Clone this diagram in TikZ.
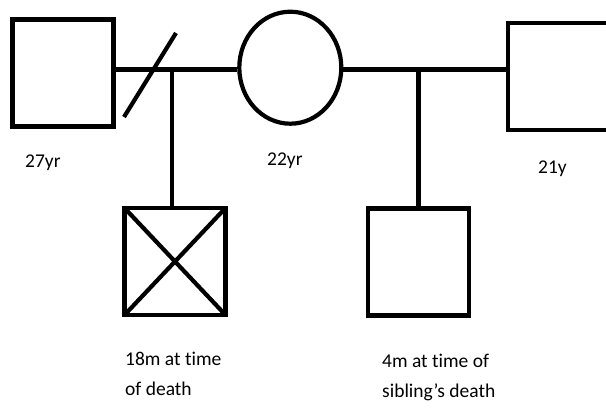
\documentclass[tikz,border=0pt]{standalone}
\usepackage{fontspec}
\setmainfont{Carlito}[Ligatures={NoCommon}]
\usetikzlibrary{shapes.geometric}
\begin{document}
\begin{tikzpicture}[x=1pt,y=-1pt,
  person/.style={draw,line width=4.2pt,inner sep=0pt,minimum width=101pt,minimum height=107pt},
  female/.style={draw,ellipse,line width=4.2pt,inner sep=0pt,minimum width=102pt,minimum height=112pt},
  link/.style={line width=4.2pt},
  lbl/.style={font=\fontsize{19.5}{30}\selectfont,inner sep=0pt,align=left}]
\useasboundingbox (0,0) rectangle (606,408);
\node[person] (f1) at (63,73) {};
\node[female] (m) at (290.3,67.7) {};
\node[person] (f2) at (558.5,76.5) {};
\node[person,path picture={\draw[line width=4.2pt] (path picture bounding box.north west) -- (path picture bounding box.south east) (path picture bounding box.north east) -- (path picture bounding box.south west);}] (c1) at (175,261.5) {};
\node[person] (c2) at (418.5,262) {};
\coordinate (j1) at (172,69.5);
\coordinate (j2) at (418.5,69.5);
\coordinate (s1) at (124,117);
\coordinate (s2) at (176,33);
\draw[link] (f1.east |- j1) -- (m.west |- j1);
\draw[link] (m.east |- j2) -- (f2.west |- j2);
\draw[link] (j1) -- (c1.north -| j1);
\draw[link] (j2) -- (c2.north -| j2);
\draw[link] (s1) -- (s2);
\node[lbl,anchor=west] (t1) at (25,163) {27yr};
\node[lbl,anchor=west] (t2) at (267,161) {22yr};
\node[lbl,anchor=west] (t3) at (538,169) {21y};
\node[lbl,anchor=north west] (t4) at (125,352) {18m at time\\of death};
\node[lbl,anchor=north west] (t5) at (382,354) {4m at time of\\sibling’s death};
\end{tikzpicture}
\end{document}
